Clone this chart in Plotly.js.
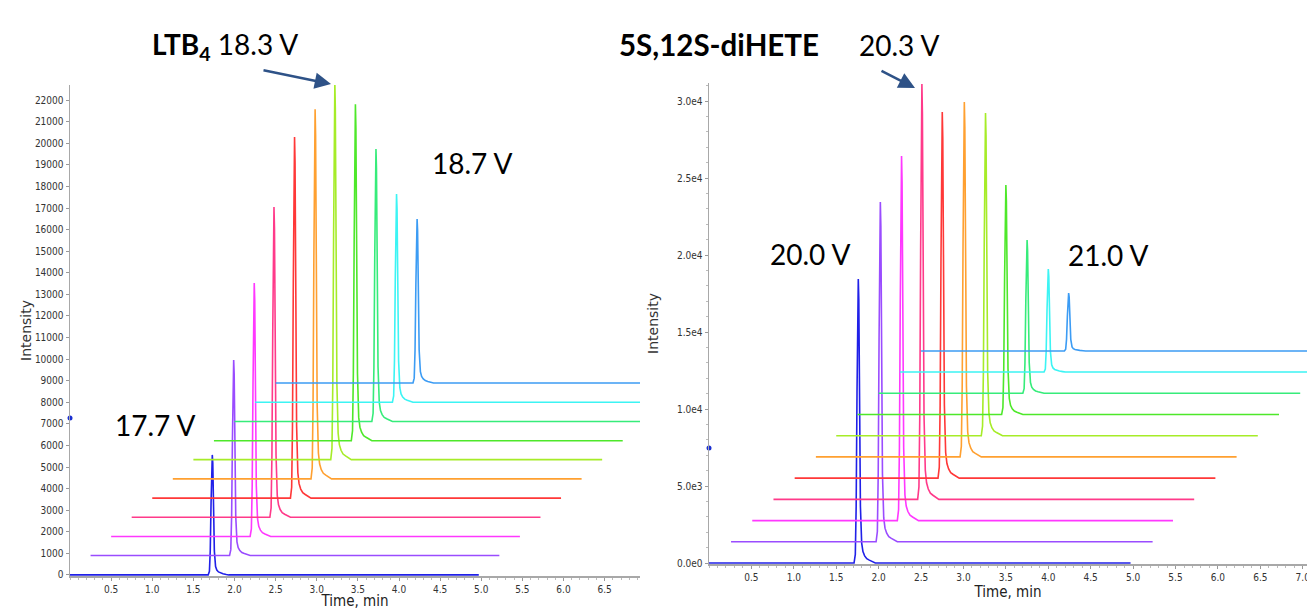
<!DOCTYPE html>
<html>
<head>
<meta charset="utf-8">
<script src="https://cdn.plot.ly/plotly-3.0.1.min.js"></script>
<style>
  html, body { margin: 0; padding: 0; background: #ffffff; }
  #chart { width: 1307px; height: 610px; }
</style>
</head>
<body>
<div id="chart"></div>
<script>
// ---------- data ----------
// trace colours, in stacking order (lowest voltage first)
const traceColors = ['#2020e8', '#9a4cff', '#ff38ff', '#ff3a8a', '#ff3838', '#ffa030',
                     '#a6ec28', '#4ee82a', '#36ec7a', '#3cf4f4', '#3c9cf4'];

// LTB4 panel (17.7 V ... 18.7 V)
const ltbStart  = [0, 0.25, 0.50, 0.75, 1.00, 1.25, 1.50, 1.75, 2.00, 2.25, 2.50];
const ltbEnd    = [4.97, 5.22, 5.47, 5.72, 5.97, 6.22, 6.47, 6.72, 6.97, 7.22, 7.47];
const ltbBase   = [0, 900, 1780, 2670, 3560, 4450, 5340, 6220, 7110, 8000, 8890];
const ltbApexT  = [1.73, 1.99, 2.24, 2.48, 2.73, 2.98, 3.22, 3.47, 3.72, 3.97, 4.22];
const ltbApex   = [5560, 9960, 13530, 17050, 20290, 21580, 22790, 21810, 19730, 17650, 16490];

// 5S,12S-diHETE panel (20.0 V ... 21.0 V)
const dihStart  = [0, 0.26, 0.51, 0.76, 1.01, 1.26, 1.50, 1.75, 2.00, 2.25, 2.50];
const dihEnd    = [4.97, 5.23, 5.47, 5.72, 5.97, 6.22, 6.47, 6.72, 6.97, 7.22, 7.47];
const dihBase   = [0, 1380, 2750, 4130, 5510, 6890, 8260, 9640, 11020, 12400, 13770];
const dihApexT  = [1.76, 2.02, 2.27, 2.51, 2.75, 3.01, 3.26, 3.50, 3.75, 4.00, 4.24];
const dihApex   = [18440, 23440, 26430, 31100, 29290, 29940, 29220, 24550, 20970, 19090, 17530];

// peak outline: time offset from apex (min) and fraction of apex height
const peakDt   = [-0.05, -0.035, -0.025, -0.015, -0.006, 0, 0.006, 0.015, 0.025, 0.04, 0.055, 0.075, 0.10, 0.13, 0.17, 0.20];
const peakFrac = [0, 0.03, 0.2, 0.6, 0.95, 1, 0.93, 0.55, 0.2, 0.07, 0.04, 0.025, 0.015, 0.01, 0.004, 0];

// cursor dots on the y axes
const cursorL = {t: 0, v: 7270};
const cursorR = {t: 0, v: 7470};

// tick labels
const xTickVals   = [0.5, 1.0, 1.5, 2.0, 2.5, 3.0, 3.5, 4.0, 4.5, 5.0, 5.5, 6.0, 6.5];
const xTickText   = ['0.5','1.0','1.5','2.0','2.5','3.0','3.5','4.0','4.5','5.0','5.5','6.0','6.5'];
const x2TickVals  = [0.5, 1.0, 1.5, 2.0, 2.5, 3.0, 3.5, 4.0, 4.5, 5.0, 5.5, 6.0, 6.5, 7.0];
const x2TickText  = ['0.5','1.0','1.5','2.0','2.5','3.0','3.5','4.0','4.5','5.0','5.5','6.0','6.5','7.0'];
const yTickVals   = [0,1000,2000,3000,4000,5000,6000,7000,8000,9000,10000,11000,12000,13000,14000,15000,16000,17000,18000,19000,20000,21000,22000];
const y2TickVals  = [0, 5000, 10000, 15000, 20000, 25000, 30000];
const y2TickText  = ['0.0e0','5.0e3','1.0e4','1.5e4','2.0e4','2.5e4','3.0e4'];

// ---------- build traces ----------
function chromatogram(start, end, base, apexT, apex, color, xa, ya) {
  const x = [start], y = [base];
  for (let k = 0; k < peakDt.length; k++) {
    x.push(apexT + peakDt[k]);
    y.push(base + peakFrac[k] * (apex - base));
  }
  x.push(end); y.push(base);
  return {type: 'scatter', mode: 'lines', x: x, y: y, xaxis: xa, yaxis: ya,
          line: {color: color, width: 1.6}, hoverinfo: 'skip', showlegend: false};
}

const data = [];
for (let i = 0; i < ltbStart.length; i++) {
  data.push(chromatogram(ltbStart[i], ltbEnd[i], ltbBase[i], ltbApexT[i], ltbApex[i], traceColors[i], 'x', 'y'));
}
for (let i = 0; i < dihStart.length; i++) {
  data.push(chromatogram(dihStart[i], dihEnd[i], dihBase[i], dihApexT[i], dihApex[i], traceColors[i], 'x2', 'y2'));
}
data.push({type: 'scatter', mode: 'markers', x: [cursorL.t], y: [cursorL.v], xaxis: 'x', yaxis: 'y',
           marker: {color: '#1a2fd0', size: 5}, cliponaxis: false, showlegend: false, hoverinfo: 'skip'});
data.push({type: 'scatter', mode: 'markers', x: [cursorR.t], y: [cursorR.v], xaxis: 'x2', yaxis: 'y2',
           marker: {color: '#1a2fd0', size: 5}, cliponaxis: false, showlegend: false, hoverinfo: 'skip'});

// ---------- layout ----------
const W = 1307, H = 610;
const tickFont = {family: '"Liberation Sans Narrow", "DejaVu Sans Condensed", sans-serif', size: 10, color: '#333'};
const yTitleFont = {family: '"DejaVu Sans", sans-serif', size: 14, color: '#333'};
const xTitleFont = {family: '"Liberation Sans Narrow", "DejaVu Sans Condensed", sans-serif', size: 15, color: '#222'};
const bigFont = {family: 'Lato, "Open Sans", sans-serif', size: 28, color: '#000'};
const bigBoldFont = {family: 'Lato, "Open Sans", sans-serif', size: 29.5, color: '#000'};

function px(x) { return x / W; }
function py(y) { return 1 - y / H; }

const axisCommon = {
  showline: true, linecolor: '#a8a8a8', linewidth: 1.5, showgrid: false, zeroline: false,
  ticks: 'outside', ticklen: 3, tickcolor: '#999', tickwidth: 1, tickfont: tickFont,
  ticklabeloverflow: 'allow', fixedrange: true
};

const layout = {
  width: W, height: H,
  margin: {l: 0, r: 0, t: 0, b: 0},
  paper_bgcolor: '#ffffff', plot_bgcolor: '#ffffff',
  showlegend: false,
  xaxis: Object.assign({}, axisCommon, {
    domain: [px(70), px(640)], range: [0, 6.93], anchor: 'y',
    tickmode: 'array', tickvals: xTickVals, ticktext: xTickText,
    minor: {dtick: 0.1, tick0: 0, ticks: 'outside', ticklen: 2, tickcolor: '#bbb'},
    title: {text: 'Time, min', font: xTitleFont, standoff: 5}
  }),
  yaxis: Object.assign({}, axisCommon, {
    domain: [py(576), py(85)], range: [-50, 22700], anchor: 'x',
    tickmode: 'array', tickvals: yTickVals, ticktext: yTickVals.map(String),
    title: {text: 'Intensity', font: yTitleFont, standoff: 0}
  }),
  xaxis2: Object.assign({}, axisCommon, {
    domain: [px(709), 1], range: [0, 7.05], anchor: 'y2',
    tickmode: 'array', tickvals: x2TickVals, ticktext: x2TickText,
    minor: {dtick: 0.1, tick0: 0, ticks: 'outside', ticklen: 2, tickcolor: '#bbb'},
    title: {text: 'Time, min', font: xTitleFont, standoff: 4}
  }),
  yaxis2: Object.assign({}, axisCommon, {
    domain: [py(564), py(83)], range: [-65, 31169], anchor: 'x2',
    tickmode: 'array', tickvals: y2TickVals, ticktext: y2TickText,
    minor: {dtick: 1000, ticks: 'outside', ticklen: 2, tickcolor: '#bbb'},
    title: {text: 'Intensity', font: yTitleFont, standoff: 15}
  }),
  annotations: [
    {xref: 'paper', yref: 'paper', x: px(150), y: py(46), xanchor: 'left', yanchor: 'middle',
     text: '<b>LTB<sub>4</sub></b> 18.3 V', showarrow: false, font: bigFont},
    {xref: 'paper', yref: 'paper', x: px(617), y: py(45), xanchor: 'left', yanchor: 'middle',
     text: '<b>5S,12S-diHETE</b>', showarrow: false, font: bigBoldFont},
    {xref: 'paper', yref: 'paper', x: px(857), y: py(45), xanchor: 'left', yanchor: 'middle',
     text: '20.3 V', showarrow: false, font: bigFont},
    {xref: 'paper', yref: 'paper', x: px(430), y: py(163), xanchor: 'left', yanchor: 'middle',
     text: '18.7 V', showarrow: false, font: bigFont},
    {xref: 'paper', yref: 'paper', x: px(113), y: py(425), xanchor: 'left', yanchor: 'middle',
     text: '17.7 V', showarrow: false, font: bigFont},
    {xref: 'paper', yref: 'paper', x: px(768), y: py(254), xanchor: 'left', yanchor: 'middle',
     text: '20.0 V', showarrow: false, font: bigFont},
    {xref: 'paper', yref: 'paper', x: px(1066), y: py(255), xanchor: 'left', yanchor: 'middle',
     text: '21.0 V', showarrow: false, font: bigFont},
    // arrows
    {xref: 'paper', yref: 'paper', x: px(331), y: py(84), ax: -69, ay: -14, text: '',
     showarrow: true, arrowhead: 2, arrowsize: 1.3, arrowwidth: 2.5, arrowcolor: '#2e5287', standoff: 0},
    {xref: 'paper', yref: 'paper', x: px(915), y: py(88), ax: -35, ay: -18, text: '',
     showarrow: true, arrowhead: 2, arrowsize: 1.3, arrowwidth: 2.5, arrowcolor: '#2e5287', standoff: 0}
  ]
};

Plotly.newPlot('chart', data, layout, {staticPlot: true, displayModeBar: false});
</script>
</body>
</html>
